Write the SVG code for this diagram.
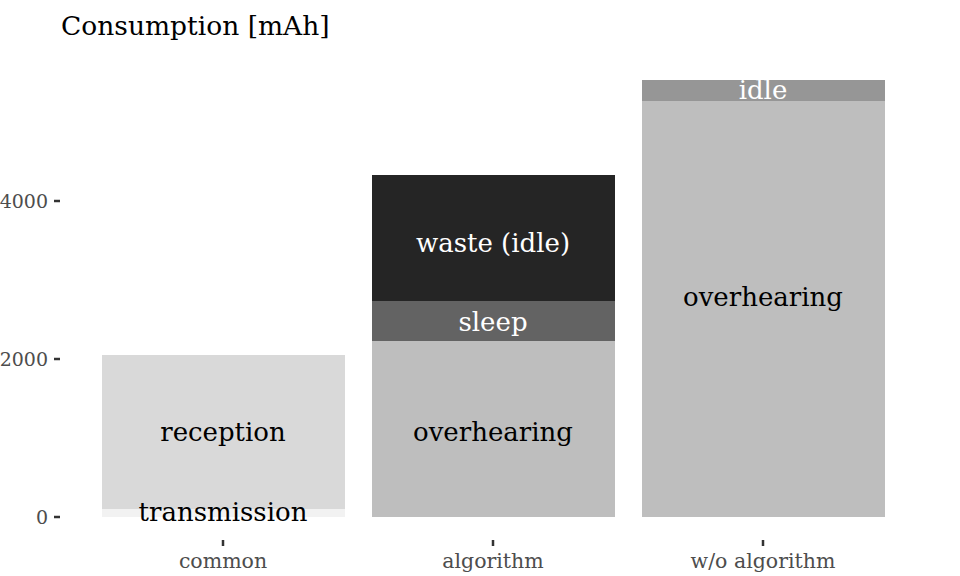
<svg xmlns="http://www.w3.org/2000/svg" width="960" height="576" viewBox="0 0 960 576">
<style>
text{font-family:"DejaVu Serif","Liberation Serif",serif}
.lbl{font-size:26px;text-anchor:middle;fill:#000}
.wl{fill:#fff}
.tick{font-size:19px;fill:#4d4d4d}
.yt{text-anchor:end}
.xt{text-anchor:middle;font-size:20.5px}
.tk{stroke:#333;stroke-width:2.5}
</style>
<rect width="960" height="576" fill="#fff"/>
<text x="61" y="35" font-size="26.5" fill="#000">Consumption [mAh]</text>
<g id="axes">
<line class="tk" x1="54" y1="201" x2="60" y2="201"/>
<line class="tk" x1="54" y1="359" x2="60" y2="359"/>
<line class="tk" x1="54" y1="517" x2="60" y2="517"/>
<line class="tk" x1="223" y1="540" x2="223" y2="546"/>
<line class="tk" x1="493" y1="540" x2="493" y2="546"/>
<line class="tk" x1="763" y1="540" x2="763" y2="546"/>
<text class="tick yt" x="48" y="208">4000</text>
<text class="tick yt" x="48" y="366">2000</text>
<text class="tick yt" x="48" y="524">0</text>
<text class="tick xt" x="223" y="568">common</text>
<text class="tick xt" x="493" y="568">algorithm</text>
<text class="tick xt" x="763" y="568">w/o algorithm</text>
</g>
<g id="common">
<rect x="102" y="509" width="243" height="8" fill="#f2f2f2"/>
<rect x="102" y="355" width="243" height="154" fill="#d9d9d9"/>
<text class="lbl" x="223" y="441">reception</text>
<text class="lbl" x="223" y="521">transmission</text>
</g>
<g id="algorithm">
<rect x="372" y="341" width="243" height="176" fill="#bebebe"/>
<rect x="372" y="301" width="243" height="40" fill="#636363"/>
<rect x="372" y="175" width="243" height="126" fill="#252525"/>
<text class="lbl" x="493" y="441">overhearing</text>
<text class="lbl wl" x="493" y="331">sleep</text>
<text class="lbl wl" x="493" y="252">waste (idle)</text>
</g>
<g id="woalgorithm">
<rect x="642" y="101" width="243" height="416" fill="#bebebe"/>
<rect x="642" y="80" width="243" height="21" fill="#969696"/>
<text class="lbl" x="763" y="306">overhearing</text>
<text class="lbl wl" x="763" y="99">idle</text>
</g>
</svg>
